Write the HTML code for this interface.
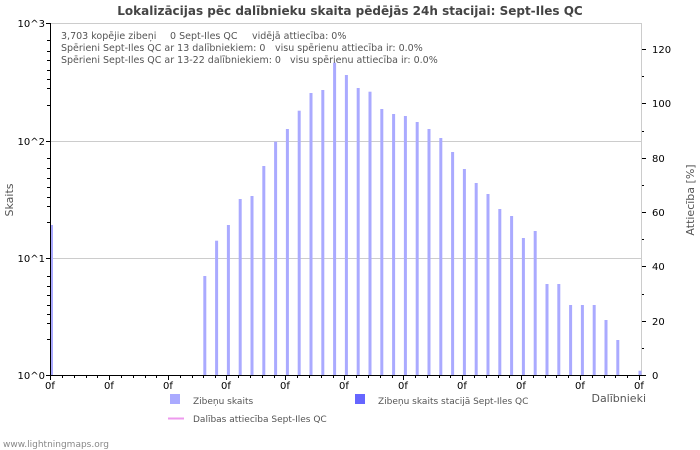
<!DOCTYPE html>
<html><head><meta charset="utf-8"><style>
html,body{margin:0;padding:0;background:#fff;}
svg{display:block;font-family:"DejaVu Sans","Liberation Sans",sans-serif;}
</style></head><body>
<svg width="700" height="450" viewBox="0 0 700 450" xmlns="http://www.w3.org/2000/svg">
<rect width="700" height="450" fill="#fff"/>
<text x="350" y="15" text-anchor="middle" font-size="12" font-weight="bold" fill="#444">Lokalizācijas pēc dalībnieku skaita pēdējās 24h stacijai: Sept-Iles QC</text>
<line x1="50" y1="23.5" x2="641" y2="23.5" stroke="#ccc"/>
<line x1="641.5" y1="23" x2="641.5" y2="375" stroke="#ccc"/>
<line x1="50" y1="141.5" x2="641" y2="141.5" stroke="#ccc"/>
<line x1="50" y1="258.5" x2="641" y2="258.5" stroke="#ccc"/>
<g fill="#aaaaff">
<rect x="50" y="225" width="3" height="150"/>
<rect x="203.3" y="276" width="3" height="99"/>
<rect x="215.1" y="240.7" width="3" height="134.3"/>
<rect x="226.9" y="225" width="3" height="150"/>
<rect x="238.7" y="199" width="3" height="176"/>
<rect x="250.5" y="196" width="3" height="179"/>
<rect x="262.3" y="166" width="3" height="209"/>
<rect x="274.1" y="141.7" width="3" height="233.3"/>
<rect x="285.9" y="129" width="3" height="246"/>
<rect x="297.7" y="110.7" width="3" height="264.3"/>
<rect x="309.5" y="93" width="3" height="282"/>
<rect x="321.3" y="90" width="3" height="285"/>
<rect x="333.1" y="62.7" width="3" height="312.3"/>
<rect x="344.9" y="75" width="3" height="300"/>
<rect x="356.7" y="88" width="3" height="287"/>
<rect x="368.5" y="91.7" width="3" height="283.3"/>
<rect x="380.3" y="109" width="3" height="266"/>
<rect x="392.1" y="114" width="3" height="261"/>
<rect x="403.9" y="116" width="3" height="259"/>
<rect x="415.7" y="122" width="3" height="253"/>
<rect x="427.5" y="129" width="3" height="246"/>
<rect x="439.3" y="138" width="3" height="237"/>
<rect x="451.1" y="152" width="3" height="223"/>
<rect x="462.9" y="169" width="3" height="206"/>
<rect x="474.7" y="183" width="3" height="192"/>
<rect x="486.5" y="194" width="3" height="181"/>
<rect x="498.3" y="209" width="3" height="166"/>
<rect x="510.1" y="216" width="3" height="159"/>
<rect x="521.9" y="238" width="3" height="137"/>
<rect x="533.7" y="231" width="3" height="144"/>
<rect x="545.5" y="284" width="3" height="91"/>
<rect x="557.3" y="284" width="3" height="91"/>
<rect x="569.1" y="305" width="3" height="70"/>
<rect x="580.9" y="305" width="3" height="70"/>
<rect x="592.7" y="305" width="3" height="70"/>
<rect x="604.5" y="320" width="3" height="55"/>
<rect x="616.3" y="340" width="3" height="35"/>
<rect x="638.5" y="370.7" width="3" height="4.3"/>
</g>
<line x1="50.5" y1="23" x2="50.5" y2="376" stroke="#000"/>
<line x1="50" y1="375.5" x2="642" y2="375.5" stroke="#000"/>
<g stroke="#000">
<path d="M46 23.5h4M46 141.5h4M46 258.5h4M46 375.5h4"/>
<path d="M47 40.5h3M47 51.5h3M47 60.5h3M47 70.5h3M47 79.5h3M47 88.5h3M47 105.5h3M47 158.5h3M47 168.5h3M47 178.5h3M47 187.5h3M47 197.5h3M47 206.5h3M47 222.5h3M47 276.5h3M47 286.5h3M47 295.5h3M47 305.5h3M47 314.5h3M47 323.5h3M47 339.5h3"/>
<path d="M642 375.5h4M642 321.5h4M642 266.5h4M642 212.5h4M642 158.5h4M642 103.5h4M642 49.5h4"/>
<path d="M642 348.5h2M642 294.5h2M642 239.5h2M642 185.5h2M642 131.5h2M642 76.5h2"/>
<path d="M50.5 376v4M109.5 376v4M168.5 376v4M226.5 376v4M285.5 376v4M344.5 376v4M403.5 376v4M462.5 376v4M521.5 376v4M580.5 376v4M639.5 376v4"/>
<path d="M62.5 376v2M74.5 376v2M86.5 376v2M97.5 376v2M121.5 376v2M133.5 376v2M145.5 376v2M156.5 376v2M180.5 376v2M192.5 376v2M203.5 376v2M215.5 376v2M238.5 376v2M250.5 376v2M262.5 376v2M274.5 376v2M297.5 376v2M309.5 376v2M321.5 376v2M333.5 376v2M356.5 376v2M368.5 376v2M380.5 376v2M392.5 376v2M415.5 376v2M427.5 376v2M439.5 376v2M450.5 376v2M474.5 376v2M486.5 376v2M498.5 376v2M509.5 376v2M533.5 376v2M545.5 376v2M556.5 376v2M568.5 376v2M592.5 376v2M604.5 376v2M615.5 376v2M627.5 376v2"/>
</g>
<g font-size="10" fill="#000">
<text x="45" y="27" text-anchor="end">10^3</text>
<text x="45" y="145" text-anchor="end">10^2</text>
<text x="45" y="262" text-anchor="end">10^1</text>
<text x="45" y="379" text-anchor="end">10^0</text>
<g text-anchor="start">
<text x="652" y="379">0</text><text x="652" y="325">20</text><text x="652" y="270">40</text><text x="652" y="216">60</text><text x="652" y="162">80</text><text x="652" y="107">100</text><text x="652" y="53">120</text>
</g>
<g text-anchor="middle">
<text x="50" y="389">0f</text><text x="109" y="389">0f</text><text x="168" y="389">0f</text><text x="226" y="389">0f</text><text x="285" y="389">0f</text><text x="344" y="389">0f</text><text x="403" y="389">0f</text><text x="462" y="389">0f</text><text x="521" y="389">0f</text><text x="580" y="389">0f</text><text x="639" y="389">0f</text>
</g>
</g>
<g font-size="9.5" fill="#555">
<text x="61" y="39">3,703 kopējie zibeņi</text><text x="170" y="39">0 Sept-Iles QC</text><text x="252" y="39">vidējā attiecība: 0%</text>
<text x="61" y="51">Spērieni Sept-Iles QC ar 13 dalībniekiem: 0</text><text x="275" y="51">visu spērienu attiecība ir: 0.0%</text>
<text x="61" y="63">Spērieni Sept-Iles QC ar 13-22 dalībniekiem: 0</text><text x="290" y="63">visu spērienu attiecība ir: 0.0%</text>
</g>
<text x="13" y="200" font-size="11" fill="#555" text-anchor="middle" transform="rotate(-90 13 200)">Skaits</text>
<text x="694" y="200" font-size="11" fill="#555" text-anchor="middle" transform="rotate(-90 694 200)">Attiecība [%]</text>
<text x="646" y="402" font-size="11" fill="#555" text-anchor="end">Dalībnieki</text>
<rect x="170" y="394" width="10" height="10" fill="#aaaaff"/>
<text x="193" y="404" font-size="9" fill="#555">Zibeņu skaits</text>
<rect x="355" y="394" width="10" height="10" fill="#6666ff"/>
<text x="378" y="404" font-size="9" fill="#555">Zibeņu skaits stacijā Sept-Iles QC</text>
<line x1="168" y1="418.5" x2="184" y2="418.5" stroke="#ee99ee" stroke-width="2"/>
<text x="193" y="422" font-size="9" fill="#555">Dalības attiecība Sept-Iles QC</text>
<text x="3" y="447" font-size="9" fill="#888">www.lightningmaps.org</text>
</svg>
</body></html>
